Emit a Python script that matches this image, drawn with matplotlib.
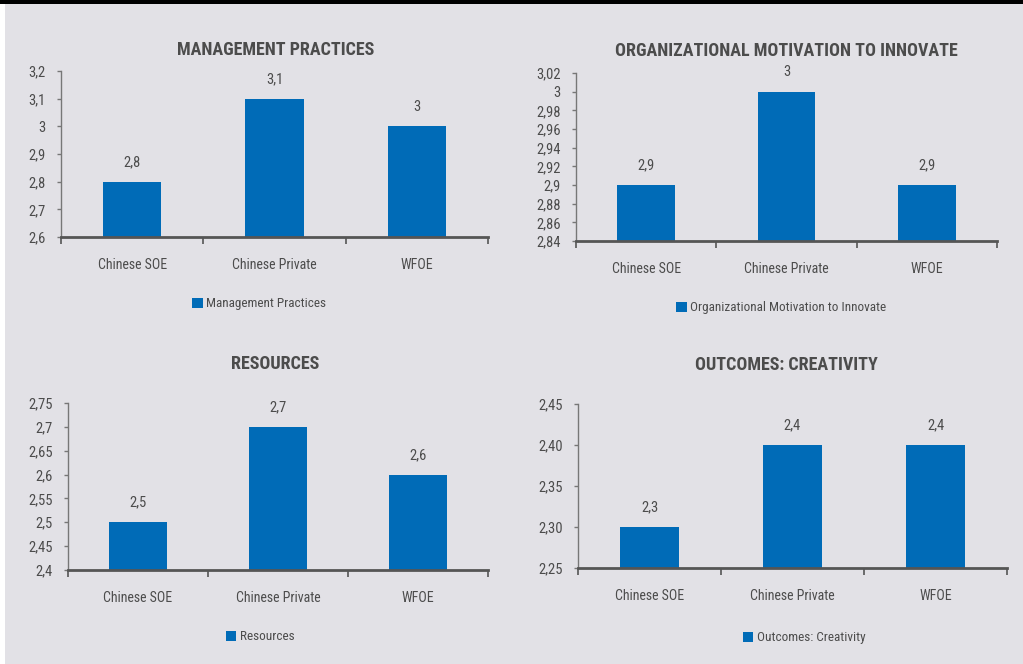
import matplotlib
matplotlib.use("Agg")
import matplotlib.pyplot as plt
from matplotlib import font_manager as fm
from matplotlib.patches import Rectangle
from matplotlib.ticker import FixedLocator, FuncFormatter

# ---------------- data ----------------
categories = ["Chinese SOE", "Chinese Private", "WFOE"]

titles = ["MANAGEMENT PRACTICES", "ORGANIZATIONAL MOTIVATION TO INNOVATE",
          "RESOURCES", "OUTCOMES: CREATIVITY"]
series_names = ["Management Practices", "Organizational Motivation to Innovate",
                "Resources", "Outcomes: Creativity"]

management = [2.8, 3.1, 3.0]
motivation = [2.9, 3.0, 2.9]
resources = [2.5, 2.7, 2.6]
creativity = [2.3, 2.4, 2.4]

mgmt_labels = ["2,8", "3,1", "3"]
motiv_labels = ["2,9", "3", "2,9"]
res_labels = ["2,5", "2,7", "2,6"]
crea_labels = ["2,3", "2,4", "2,4"]

mgmt_ticks = [2.6, 2.7, 2.8, 2.9, 3.0, 3.1, 3.2]
mgmt_ticklabels = ["2,6", "2,7", "2,8", "2,9", "3", "3,1", "3,2"]
motiv_ticks = [2.84, 2.86, 2.88, 2.90, 2.92, 2.94, 2.96, 2.98, 3.00, 3.02]
motiv_ticklabels = ["2,84", "2,86", "2,88", "2,9", "2,92", "2,94", "2,96", "2,98", "3", "3,02"]
res_ticks = [2.40, 2.45, 2.50, 2.55, 2.60, 2.65, 2.70, 2.75]
res_ticklabels = ["2,4", "2,45", "2,5", "2,55", "2,6", "2,65", "2,7", "2,75"]
crea_ticks = [2.25, 2.30, 2.35, 2.40, 2.45]
crea_ticklabels = ["2,25", "2,30", "2,35", "2,40", "2,45"]

# ---------------- fonts ----------------
available = {f.name for f in fm.fontManager.ttflist}
family = "DejaVu Sans"
stretch = "normal"
for cand in ["Roboto Condensed", "Liberation Sans Narrow", "Open Sans Condensed",
             "DejaVu Sans Condensed"]:
    if cand in available:
        family = cand
        break
else:
    stretch = "condensed"
plt.rcParams["font.family"] = [family, "DejaVu Sans"]
plt.rcParams["font.stretch"] = stretch

TEXT = "#4c4c4c"
BAR = "#006bb7"
BG = "#e2e1e6"

W, H = 1023, 664
fig = plt.figure(figsize=(W / 100, H / 100), dpi=100, facecolor="white")

# background panels
fig.add_artist(Rectangle((5 / W, 0), (W - 5) / W, (H - 4) / H, transform=fig.transFigure,
                         facecolor=BG, edgecolor="none", zorder=-10))
fig.add_artist(Rectangle((0, 1 - 4 / H), 1, 4 / H, transform=fig.transFigure,
                         facecolor="black", edgecolor="none", zorder=-9))

panels = [
    dict(box=(61, 488, 71, 237), vals=management, labs=mgmt_labels, ticks=mgmt_ticks,
         tlabs=mgmt_ticklabels, title_xy=(276, 50), leg_xy=(259, 304)),
    dict(box=(576, 997, 73, 241), vals=motivation, labs=motiv_labels, ticks=motiv_ticks,
         tlabs=motiv_ticklabels, title_xy=(786, 51), leg_xy=(781, 308)),
    dict(box=(68, 488, 403, 570), vals=resources, labs=res_labels, ticks=res_ticks,
         tlabs=res_ticklabels, title_xy=(275, 364), leg_xy=(260, 637)),
    dict(box=(578, 1007, 404, 568), vals=creativity, labs=crea_labels, ticks=crea_ticks,
         tlabs=crea_ticklabels, title_xy=(786, 365), leg_xy=(804, 638)),
]

for i, p in enumerate(panels):
    l, r, t, b = p["box"]
    ax = fig.add_axes([l / W, 1 - b / H, (r - l) / W, (b - t) / H])
    ax.set_facecolor("none")
    x = list(range(len(categories)))
    ax.bar(x, p["vals"], width=0.41, color=BAR, label=series_names[i], zorder=2)
    ax.set_xlim(-0.5, len(categories) - 0.5)
    ax.set_ylim(p["ticks"][0], p["ticks"][-1])
    ax.set_yticks(p["ticks"])
    ax.set_yticklabels(p["tlabs"])
    # x: boundary ticks, centered category labels
    ax.xaxis.set_major_locator(FixedLocator([-0.5, 0.5, 1.5, 2.5]))
    ax.xaxis.set_major_formatter(FuncFormatter(lambda v, pos: ""))
    ax.set_xticks(x, minor=True)
    ax.set_xticklabels(categories, minor=True)
    ax.tick_params(axis="x", which="major", direction="out", length=5, width=1.2,
                   color="#555555")
    ax.tick_params(axis="x", which="minor", length=0, pad=15, labelsize=10,
                   labelcolor=TEXT)
    ax.tick_params(axis="y", direction="out", length=3, width=1, color="#777777",
                   pad=8, labelsize=10.5, labelcolor=TEXT)
    for s in ["top", "right"]:
        ax.spines[s].set_visible(False)
    ax.spines["left"].set_color("#777777")
    ax.spines["left"].set_linewidth(1)
    ax.spines["bottom"].set_color("#555555")
    ax.spines["bottom"].set_linewidth(2)
    ax.spines["bottom"].set_zorder(3)

    for xi, v, lab in zip(x, p["vals"], p["labs"]):
        ax.annotate(lab, (xi, v), xytext=(0, 9), textcoords="offset points",
                    ha="center", va="bottom", fontsize=10.5, color=TEXT)

    tx, ty = p["title_xy"]
    fig.text(tx / W, 1 - ty / H, titles[i], ha="center", va="center", fontsize=13,
             color=TEXT, fontweight="semibold")
    lx, ly = p["leg_xy"]
    ax.legend(loc="center", bbox_to_anchor=(lx / W, 1 - ly / H),
              bbox_transform=fig.transFigure, frameon=False, fontsize=9.5,
              handlelength=0.8, handleheight=0.8, handletextpad=0.25,
              labelcolor=TEXT)

fig.savefig("out.png", dpi=100, facecolor=fig.get_facecolor())
